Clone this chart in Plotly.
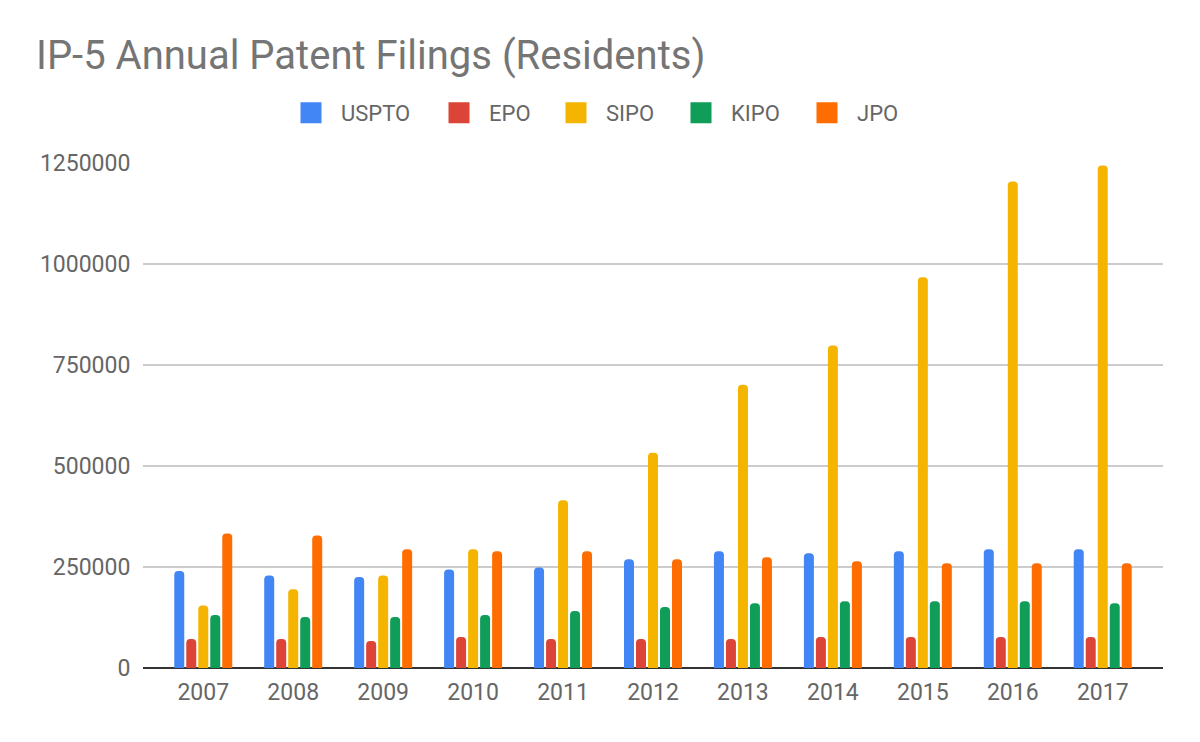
import plotly.graph_objects as go

# values
years = ["2007", "2008", "2009", "2010", "2011", "2012", "2013", "2014", "2015", "2016", "2017"]
uspto = [240000, 229000, 225000, 244000, 249000, 269000, 289000, 284000, 289000, 294000, 294000]
epo = [71500, 71500, 67000, 76500, 71500, 71500, 71500, 76500, 76500, 76500, 76500]
sipo = [155000, 195000, 229000, 294000, 415000, 533000, 701000, 798000, 967000, 1204000, 1244000]
kipo = [131000, 126000, 126000, 131000, 141000, 151000, 160000, 165000, 165000, 165000, 160000]
jpo = [333000, 328000, 294000, 289000, 289000, 269000, 274000, 264000, 259000, 259000, 259000]

series = [
    ("USPTO", uspto, "#4285F4"),
    ("EPO", epo, "#DB4437"),
    ("SIPO", sipo, "#F4B400"),
    ("KIPO", kipo, "#0F9D58"),
    ("JPO", jpo, "#FF6D00"),
]
# legend square centres (px from left of page)
legend_x = [313, 461, 578, 703, 829]

fig = go.Figure()
for name, vals, col in series:
    fig.add_trace(go.Bar(x=years, y=vals, name=name, showlegend=False,
                         marker=dict(color=col, cornerradius=4, line=dict(width=0))))

# legend-only entries, one legend each so they sit where the reference has them
legends = {}
for i, (name, vals, col) in enumerate(series):
    key = "legend" if i == 0 else "legend%d" % (i + 1)
    fig.add_trace(go.Scatter(x=[None], y=[None], name=name, mode="markers", legend=key,
                             marker=dict(symbol="square", size=16, color=col,
                                         line=dict(color=col, width=5))))
    legends[key] = dict(orientation="h", x=(legend_x[i] - 8 - 32) / 1200, xanchor="left",
                        xref="container", y=1 - 105 / 742, yanchor="middle",
                        yref="container", font=dict(size=22, color="#666666"),
                        itemwidth=50, bgcolor="rgba(0,0,0,0)")

fig.update_layout(
    width=1200, height=742,
    font=dict(family="Roboto", color="#666666"),
    paper_bgcolor="white", plot_bgcolor="white",
    margin=dict(l=135, r=45, t=155, b=82),
    barmode="group", bargap=0.333, bargroupgap=0.167,
    title=dict(text="IP-5 Annual Patent Filings (Residents)",
               font=dict(size=40, color="#757575"),
               x=28 / 1200, xanchor="left", xref="container",
               y=1 - 33 / 742, yanchor="top", yref="container"),
    showlegend=True,
    **legends,
)
fig.update_xaxes(range=[-0.67, 10.67], showgrid=False, showline=False,
                 tickfont=dict(size=23), ticks="outside", ticklen=3, tickcolor="white")
fig.update_yaxes(range=[0, 1250000], tickvals=[0, 250000, 500000, 750000, 1000000, 1250000],
                 tickformat="d", gridcolor="#cccccc", gridwidth=2,
                 zeroline=True, zerolinecolor="#333333", zerolinewidth=2,
                 tickfont=dict(size=23), ticks="outside", ticklen=7, tickcolor="white")

fig.write_html("out.html")
